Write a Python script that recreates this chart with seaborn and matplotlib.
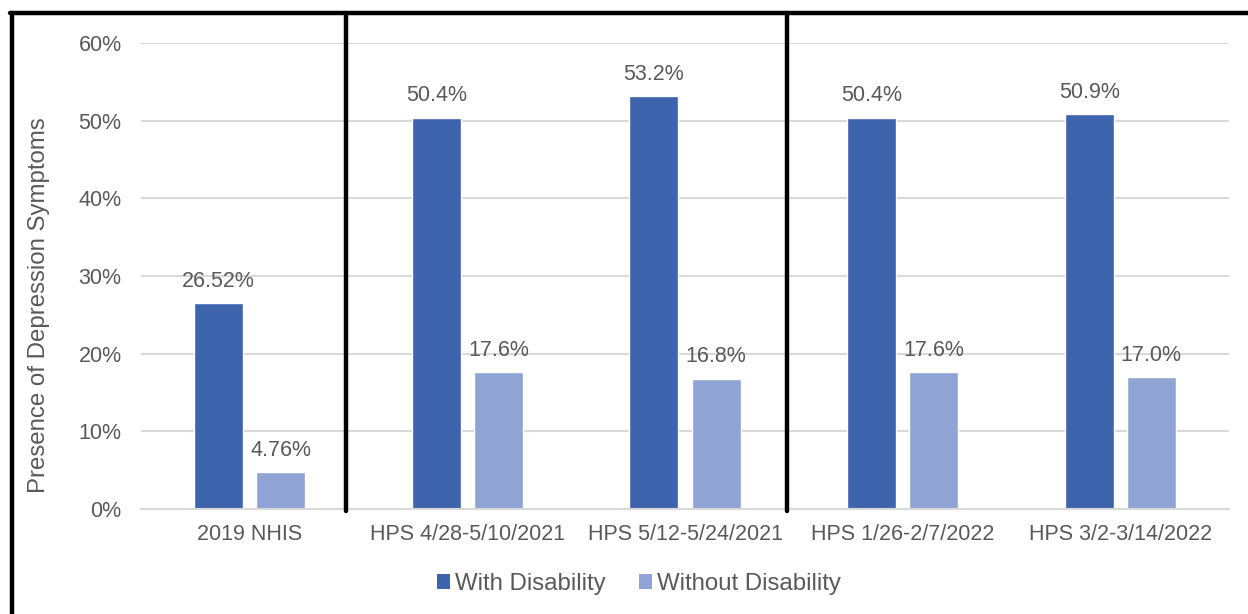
import pandas as pd
import numpy as np

import matplotlib
matplotlib.use("Agg")
import matplotlib.pyplot as plt
import matplotlib.transforms as mtransforms
from matplotlib.lines import Line2D
from matplotlib.patches import Patch
import seaborn as sns

# Daten
surveys = ['2019 NHIS', 'HPS 4/28-5/10/2021', 'HPS 5/12-5/24/2021',
           'HPS 1/26-2/7/2022', 'HPS 3/2-3/14/2022']
with_disability = [26.52, 50.4, 53.2, 50.4, 50.9]
without_disability = [4.76, 17.6, 16.8, 17.6, 17.0]
with_labels = ['26.52%', '50.4%', '53.2%', '50.4%', '50.9%']
without_labels = ['4.76%', '17.6%', '16.8%', '17.6%', '17.0%']
groups = ['With Disability', 'Without Disability']
colors = {'With Disability': '#3D64AD', 'Without Disability': '#8FA4D4'}

df = pd.DataFrame({
    'survey': surveys * 2,
    'group': [groups[0]] * len(surveys) + [groups[1]] * len(surveys),
    'value': with_disability + without_disability,
})

sns.set_style("white")
plt.rcParams['font.family'] = ['Liberation Sans', 'DejaVu Sans']
text_color = '#595959'
fs = 15.5
fs_big = 17.3

fig = plt.figure(figsize=(12.48, 6.14), dpi=100)
ax = fig.add_axes([141 / 1248, 1 - 509 / 614, 1088 / 1248, 466 / 614])

sns.barplot(data=df, x='survey', y='value', hue='group', order=surveys,
            hue_order=groups, palette=colors, width=0.57, gap=0.21,
            saturation=1, legend=False, ax=ax)

for cont, labels in zip(ax.containers, [with_labels, without_labels]):
    ax.bar_label(cont, labels=labels, padding=8, fontsize=fs, color=text_color)

ax.set_ylim(0, 60)
ax.set_xlim(-0.5, len(surveys) - 0.5)
ax.set_yticks(np.arange(0, 61, 10))
ax.set_yticklabels([f'{v}%' for v in range(0, 61, 10)])
ax.yaxis.grid(True, color='#D9D9D9', linewidth=1.5)
ax.set_axisbelow(True)
for s in ['top', 'right', 'left']:
    ax.spines[s].set_visible(False)
ax.spines['bottom'].set_color('#D9D9D9')
ax.spines['bottom'].set_linewidth(1.5)
ax.tick_params(axis='both', length=0, labelsize=fs, labelcolor=text_color)
ax.tick_params(axis='y', pad=14)
ax.tick_params(axis='x', pad=11)
ax.set_xlabel('')
ax.set_ylabel('Presence of Depression Symptoms', fontsize=fs_big, color=text_color)
ax.yaxis.set_label_coords(-0.0836, 0.437)

# Trennlinien zwischen Erhebungen
blend = mtransforms.blended_transform_factory(ax.transData, fig.transFigure)
for xs in [0.44, 2.47]:
    fig.add_artist(Line2D([xs, xs], [1 - 511 / 614, 1 - 13 / 614], transform=blend,
                          color='black', linewidth=3.2))

# Rahmen links und oben
fig.add_artist(Line2D([11.5 / 1248, 11.5 / 1248], [0, 1 - 13 / 614],
                      transform=fig.transFigure, color='black', linewidth=3.2))
fig.add_artist(Line2D([10 / 1248, 1], [1 - 13 / 614, 1 - 13 / 614],
                      transform=fig.transFigure, color='black', linewidth=3.2))

handles = [Patch(facecolor=colors[g], edgecolor='none', label=g) for g in groups]
leg = fig.legend(handles=handles, loc='center', bbox_to_anchor=(639 / 1248, 1 - 584 / 614),
                 ncol=2, frameon=False, fontsize=fs_big, handlelength=0.55, handleheight=0.55,
                 handletextpad=0.2, columnspacing=1.4)
for t in leg.get_texts():
    t.set_color(text_color)

fig.savefig('out.png', dpi=100)
